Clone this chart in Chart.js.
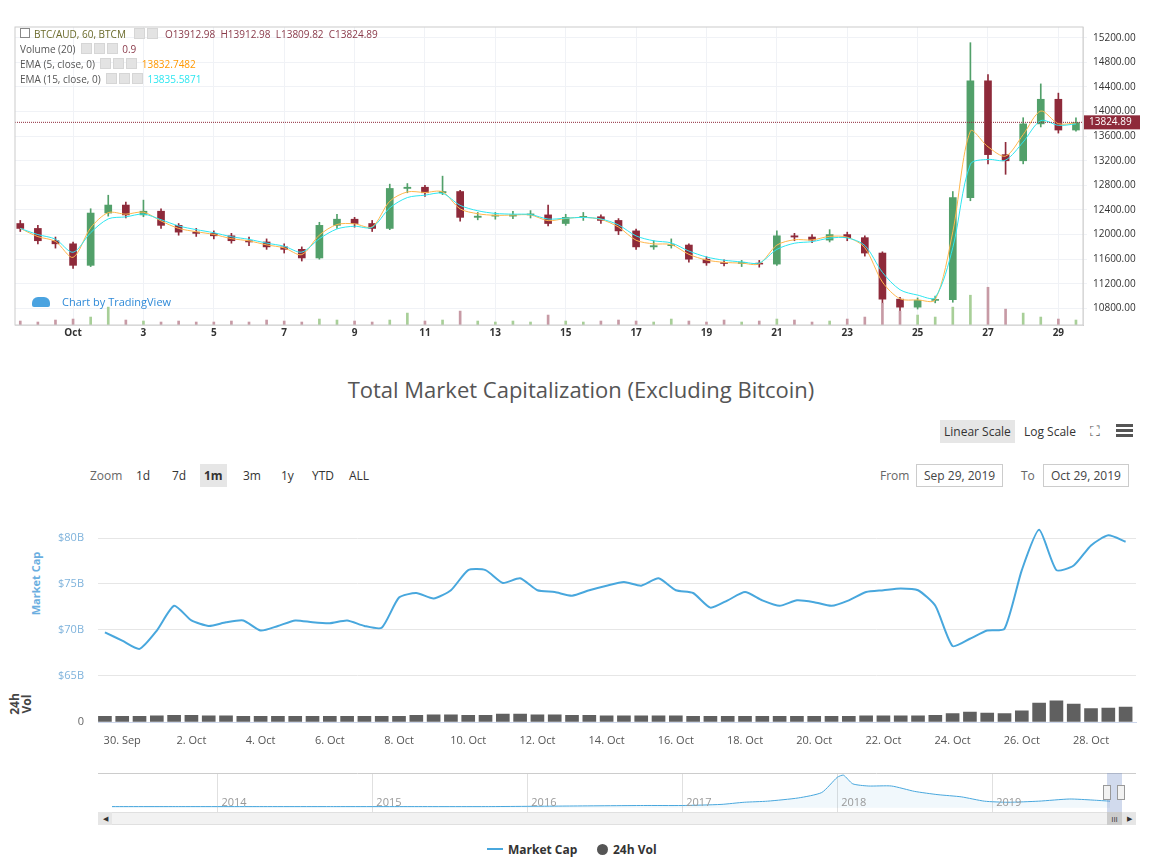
<!DOCTYPE html>
<html>
<head>
<meta charset="utf-8">
<script src="https://cdn.jsdelivr.net/npm/chart.js@4"></script>
<style>
  body { margin: 0; width: 1162px; height: 864px; background: #fff; font-family: "Open Sans", sans-serif; position: relative; overflow: hidden; }
  canvas { position: absolute; }
  .abs { position: absolute; white-space: nowrap; }
  .tv { font-size: 10px; color: #555; }
  .ico { display: inline-block; width: 9px; height: 9px; background: #e3e3e3; border: 1px solid #d6d6d6; margin-right: 2px; vertical-align: -1px; }
  .btn { font-size: 12px; color: #333; padding: 3px 4px; }
  .inp { border: 1px solid #ccc; font-size: 12px; color: #444; padding: 2px 7px; }
</style>
</head>
<body>
<canvas id="top" width="1162" height="335" style="left:0;top:15px"></canvas>
<div class="abs tv" style="left:20px;top:27px"><span style="border:1px solid #888;display:inline-block;width:8px;height:8px;margin-right:4px"></span><span style="color:#6a6a2a">BTC/AUD, 60, BTCM</span> &nbsp;&nbsp;<span class="ico"></span><span class="ico"></span>&nbsp; <span style="color:#8a3a4a">O13912.98 &nbsp;H13912.98 &nbsp;L13809.82 &nbsp;C13824.89</span></div>
<div class="abs tv" style="left:20px;top:42px">Volume (20) &nbsp;<span class="ico"></span><span class="ico"></span><span class="ico"></span>&nbsp;<span style="color:#8a3a4a">0.9</span></div>
<div class="abs tv" style="left:20px;top:57px">EMA (5, close, 0) &nbsp;<span class="ico"></span><span class="ico"></span><span class="ico"></span>&nbsp;<span style="color:#ff9800">13832.7482</span></div>
<div class="abs tv" style="left:20px;top:72px">EMA (15, close, 0) &nbsp;<span class="ico"></span><span class="ico"></span><span class="ico"></span>&nbsp;<span style="color:#2ee6f0">13835.5871</span></div>
<div class="abs" style="left:32px;top:294px;font-size:11px;color:#2f8ad8"><span style="display:inline-block;width:18px;height:10px;background:#4aa3e0;border-radius:6px 6px 2px 2px;vertical-align:-1px;margin-right:12px"></span>Chart by TradingView</div>

<div class="abs" style="left:0;width:1162px;top:374px;text-align:center;font-size:22px;color:#555">Total Market Capitalization (Excluding Bitcoin)</div>
<div class="abs btn" style="left:940px;top:420px;background:#e6e6e6">Linear Scale</div>
<div class="abs btn" style="left:1020px;top:420px">Log Scale</div>
<div class="abs" style="left:1090px;top:421px;font-size:14px;color:#555">⛶</div>
<div class="abs" style="left:1116px;top:424px;width:17px;height:3px;background:#555;box-shadow:0 5px 0 #555,0 10px 0 #555"></div>
<div class="abs" style="left:90px;top:467px;font-size:12px;color:#666">Zoom</div>
<div class="abs btn" style="left:132px;top:464px">1d</div>
<div class="abs btn" style="left:168px;top:464px">7d</div>
<div class="abs btn" style="left:200px;top:464px;background:#e6e6e6;font-weight:bold">1m</div>
<div class="abs btn" style="left:239px;top:464px">3m</div>
<div class="abs btn" style="left:277px;top:464px">1y</div>
<div class="abs btn" style="left:308px;top:464px">YTD</div>
<div class="abs btn" style="left:345px;top:464px">ALL</div>
<div class="abs" style="left:880px;top:467px;font-size:12px;color:#666">From</div>
<div class="abs inp" style="left:916px;top:464px">Sep 29, 2019</div>
<div class="abs" style="left:1021px;top:467px;font-size:12px;color:#666">To</div>
<div class="abs inp" style="left:1043px;top:464px">Oct 29, 2019</div>
<div class="abs" style="left:4px;top:576px;transform:rotate(-90deg);font-size:11px;font-weight:bold;color:#6aaee0">Market Cap</div>
<div class="abs" style="left:10px;top:692px;transform:rotate(-90deg);font-size:12px;font-weight:bold;color:#444;line-height:12px;text-align:center">24h<br>Vol</div>

<canvas id="mcap" width="1162" height="217" style="left:0;top:479px"></canvas>
<canvas id="vol" width="1162" height="82" style="left:0;top:678px"></canvas>
<canvas id="nav" width="1162" height="60" style="left:0;top:770px"></canvas>
<div class="abs" style="left:98px;top:812px;width:1038px;height:13px;background:#f2f2f2;border:1px solid #e0e0e0;box-sizing:border-box"></div>
<div class="abs" style="left:98px;top:812px;width:14px;height:13px;background:#e6e6e6;font-size:7px;text-align:center;line-height:13px;color:#333">◀</div>
<div class="abs" style="left:1122px;top:812px;width:14px;height:13px;background:#e6e6e6;font-size:7px;text-align:center;line-height:13px;color:#333">▶</div>
<div class="abs" style="left:1107px;top:812px;width:15px;height:13px;background:#ccc;font-size:8px;text-align:center;line-height:13px;color:#333">III</div>
<div class="abs" style="left:1107px;top:773px;width:15px;height:39px;background:rgba(102,133,194,0.3)"></div>
<div class="abs" style="left:1103px;top:785px;width:6px;height:13px;background:#f2f2f2;border:1px solid #999"></div>
<div class="abs" style="left:1117px;top:785px;width:6px;height:13px;background:#f2f2f2;border:1px solid #999"></div>
<div class="abs" style="left:487px;top:841px;font-size:12px;font-weight:bold;color:#333"><span style="display:inline-block;width:16px;height:2px;background:#48a7dd;vertical-align:4px;margin-right:5px"></span>Market Cap</div>
<div class="abs" style="left:597px;top:841px;font-size:12px;font-weight:bold;color:#333"><span style="display:inline-block;width:11px;height:11px;border-radius:6px;background:#555;vertical-align:-1px;margin-right:5px"></span>24h Vol</div>

<script>
// ---- BTC/AUD 12h candles (t = days after Oct 1) ----
const candleT = [-1.5,-1,-0.5,0,0.5,1,1.5,2,2.5,3,3.5,4,4.5,5,5.5,6,6.5,7,7.5,8,8.5,9,9.5,10,10.5,11,11.5,12,12.5,13,13.5,14,14.5,15,15.5,16,16.5,17,17.5,18,18.5,19,19.5,20,20.5,21,21.5,22,22.5,23,23.5,24,24.5,25,25.5,26,26.5,27,27.5,28,28.5];
const opens  = [12180,12100,11900,11850,11500,12350,12480,12320,12380,12150,12040,12020,11980,11900,11880,11800,11760,11620,12150,12250,12180,12100,12750,12770,12680,12700,12280,12300,12300,12320,12320,12180,12280,12290,12230,12060,11800,11820,11830,11600,11540,11530,11530,11520,11980,11960,11910,12000,11950,11700,10950,10820,10930,10940,12600,14500,13300,13200,13800,14200,13700];
const closes = [12100,11900,11850,11500,12350,12480,12320,12380,12150,12040,12020,11980,11900,11880,11800,11760,11620,12150,12250,12180,12100,12750,12770,12680,12700,12280,12300,12300,12320,12320,12180,12280,12290,12230,12060,11800,11820,11830,11600,11540,11530,11530,11520,11980,11960,11910,12000,11950,11700,10950,10820,10930,10940,12600,14500,13300,13200,13800,14200,13700,13820];
const highs  = [12230,12150,11960,11880,12420,12640,12530,12560,12420,12180,12100,12060,12020,11960,11930,11850,11800,12200,12330,12280,12230,12820,12830,12800,12950,12720,12360,12360,12380,12390,12480,12330,12360,12320,12260,12090,11900,11930,11850,11640,11590,11580,11580,12060,12020,12000,12080,12040,11980,11720,10980,10970,11000,12700,15120,14600,13500,13900,14450,14300,13900];
const lows   = [12050,11850,11780,11450,11480,12300,12270,12290,12100,11990,11970,11930,11860,11820,11760,11700,11570,11600,12100,12120,12050,12080,12680,12620,12650,12220,12240,12250,12260,12270,12140,12150,12230,12180,12000,11760,11760,11780,11550,11500,11490,11480,11470,11500,11900,11870,11880,11900,11650,10880,10760,10790,10890,10900,12550,13150,12980,13150,13750,13650,13680];
const volumes = [4,3,5,6,8,18,5,4,3,4,3,3,4,3,5,4,3,6,5,4,3,5,12,4,5,14,4,3,4,3,10,4,3,4,5,4,3,6,4,3,5,3,4,6,5,3,4,6,8,22,14,10,8,18,30,38,16,12,8,6,5];
const priceTicks = [10800,11200,11600,12000,12400,12800,13200,13600,14000,14400,14800,15200];
const lastPrice = 13824.89;

// ---- Market cap excl. BTC, 12h steps (d = days after Sep 30), $B ----
const capDays = [-0.5,0,0.5,1,1.5,2,2.5,3,3.5,4,4.5,5,5.5,6,6.5,7,7.5,8,8.5,9,9.5,10,10.5,11,11.5,12,12.5,13,13.5,14,14.5,15,15.5,16,16.5,17,17.5,18,18.5,19,19.5,20,20.5,21,21.5,22,22.5,23,23.5,24,24.5,25,25.5,26,26.5,27,27.5,28,28.5,29];
const marketCap = [69.7,68.8,67.9,69.9,72.6,71.0,70.4,70.8,71.0,69.9,70.4,71.0,70.8,70.7,71.0,70.4,70.2,73.5,74.0,73.4,74.3,76.5,76.5,75.1,75.6,74.3,74.1,73.7,74.3,74.8,75.2,74.8,75.6,74.3,74.0,72.4,73.2,74.1,73.2,72.6,73.2,73.0,72.6,73.2,74.1,74.3,74.5,74.3,72.6,68.2,69.0,69.9,70.1,76.5,80.9,76.5,77.0,79.2,80.3,79.6];
const vol24h = [10,10,10,11,12,12,11,11,10,10,10,10,10,10,10,10,10,10,12,13,13,12,12,14,14,13,13,12,12,11,11,11,11,11,10,10,10,10,10,10,10,10,10,10,11,11,11,11,12,15,18,16,15,20,34,38,32,24,25,27];
const dateLabels = ['30. Sep','2. Oct','4. Oct','6. Oct','8. Oct','10. Oct','12. Oct','14. Oct','16. Oct','18. Oct','20. Oct','22. Oct','24. Oct','26. Oct','28. Oct'];

// ---- Navigator: all-time, by year ----
const navYears = [2013.3,2013.75,2014.25,2014.75,2015.25,2015.75,2016.25,2016.75,2017.0,2017.25,2017.4,2017.55,2017.75,2017.9,2018.0,2018.04,2018.1,2018.2,2018.35,2018.5,2018.65,2018.8,2018.95,2019.1,2019.3,2019.5,2019.65,2019.76];
const navValues = [1,1,1,1,1,1,1.5,2,2,3,5,6,9,14,28,30,22,20,20,15,12,10,6,5,6,8,7,6];
const yearTicks = [2014,2015,2016,2017,2018,2019];

function ema(vals, n) {
  const k = 2 / (n + 1); let e = vals[0];
  return vals.map(v => (e = v * k + e * (1 - k)));
}
const fixW = w => (s => { s.width = w; });
const fixH = h => (s => { s.height = h; });
const UP = '#52a06a', DN = '#8e2a3a';

const priceLine = {
  id: 'priceLine',
  afterDatasetsDraw(c) {
    const { ctx, chartArea: a, scales: { y } } = c;
    const py = y.getPixelForValue(lastPrice);
    ctx.save();
    ctx.strokeStyle = '#8e2a3a'; ctx.setLineDash([1, 1]); ctx.lineWidth = 1;
    ctx.beginPath(); ctx.moveTo(a.left, py); ctx.lineTo(a.right, py); ctx.stroke();
    ctx.setLineDash([]);
    ctx.fillStyle = '#8e2a3a'; ctx.fillRect(a.right + 1, py - 7, 56, 14);
    ctx.fillStyle = '#fff'; ctx.font = '10px "Open Sans"'; ctx.textBaseline = 'middle';
    ctx.fillText(lastPrice.toFixed(2), a.right + 6, py);
    ctx.strokeStyle = '#ccc'; ctx.strokeRect(a.left, a.top, a.right - a.left, a.bottom - a.top);
    ctx.restore();
  }
};

new Chart(document.getElementById('top'), {
  data: {
    datasets: [
      { type: 'bar', yAxisID: 'yv', data: candleT.map((t, i) => ({ x: t, y: volumes[i] })),
        backgroundColor: candleT.map((t, i) => closes[i] >= opens[i] ? '#a8cf98' : '#c79aa5'), barThickness: 2, grouped: false },
      { type: 'line', data: candleT.map((t, i) => ({ x: t, y: ema(closes, 3)[i] })), borderColor: '#2ee6f0', borderWidth: 1, pointRadius: 0, tension: 0.3 },
      { type: 'line', data: candleT.map((t, i) => ({ x: t, y: ema(closes, 2)[i] })), borderColor: '#ffb74d', borderWidth: 1, pointRadius: 0, tension: 0.3 },
      { type: 'bar', data: candleT.map((t, i) => ({ x: t, y: [lows[i], highs[i]] })),
        backgroundColor: candleT.map((t, i) => closes[i] >= opens[i] ? UP : DN), barThickness: 1, grouped: false },
      { type: 'bar', data: candleT.map((t, i) => ({ x: t, y: [opens[i], closes[i]] })),
        backgroundColor: candleT.map((t, i) => closes[i] >= opens[i] ? UP : DN), barThickness: 7, grouped: false, minBarLength: 1 }
    ]
  },
  options: {
    responsive: false, animation: false, events: [],
    layout: { padding: { left: 15, top: 5 } },
    plugins: { legend: { display: false }, tooltip: { enabled: false } },
    scales: {
      x: { type: 'linear', offset: false, min: -1.65, max: 28.7, afterFit: fixH(25),
        afterBuildTicks: s => { s.ticks = [0,2,4,6,8,10,12,14,16,18,20,22,24,26,28].map(v => ({ value: v })); },
        ticks: { callback: v => v === 0 ? 'Oct' : String(v + 1), color: '#333', font: { size: 10, weight: 'bold', family: 'Open Sans' }, maxRotation: 0, padding: 2 },
        grid: { color: '#f0f2f6', drawTicks: false, offset: false } },
      y: { position: 'right', min: 10530, max: 15375, afterFit: fixW(79),
        afterBuildTicks: s => { s.ticks = priceTicks.map(v => ({ value: v })); },
        ticks: { callback: v => v.toFixed(2), color: '#333', font: { size: 10, family: 'Open Sans' }, padding: 6 },
        grid: { color: '#f0f2f6', drawTicks: true, tickLength: 4 } },
      yv: { display: false, min: 0, max: 300 }
    }
  },
  plugins: [priceLine]
});

new Chart(document.getElementById('mcap'), {
  type: 'line',
  data: { datasets: [{ data: capDays.map((d, i) => ({ x: d, y: marketCap[i] })), borderColor: '#48a7dd', borderWidth: 2, pointRadius: 0, tension: 0.2 }] },
  options: {
    responsive: false, animation: false, events: [],
    layout: { padding: { top: 5, bottom: 5, right: 26 } },
    plugins: { legend: { display: false }, tooltip: { enabled: false } },
    scales: {
      x: { type: 'linear', min: -0.7, max: 29.3, display: false },
      y: { min: 65, max: 84.2, afterFit: fixW(98),
        afterBuildTicks: s => { s.ticks = [65,70,75,80].map(v => ({ value: v })); },
        ticks: { callback: v => '$' + v + 'B', color: '#7fb3dc', font: { size: 11, family: 'Open Sans' }, padding: 14 },
        grid: { color: '#e6e6e6', drawTicks: false }, border: { display: false } }
    }
  }
});

new Chart(document.getElementById('vol'), {
  type: 'bar',
  data: { datasets: [{ data: capDays.map((d, i) => ({ x: d, y: vol24h[i] })), backgroundColor: '#606060', barThickness: 13 }] },
  options: {
    responsive: false, animation: false, events: [],
    layout: { padding: { top: 5, right: 26 } },
    plugins: { legend: { display: false }, tooltip: { enabled: false } },
    scales: {
      x: { type: 'linear', offset: false, min: -0.7, max: 29.3, afterFit: fixH(38),
        afterBuildTicks: s => { s.ticks = dateLabels.map((l, i) => ({ value: i * 2 })); },
        ticks: { callback: (v, i) => dateLabels[i], color: '#555', font: { size: 11, family: 'Open Sans' }, maxRotation: 0, padding: 4 },
        grid: { display: false, drawTicks: true, offset: false }, border: { color: '#ccd6eb' } },
      y: { min: 0, max: 42, afterFit: fixW(98),
        afterBuildTicks: s => { s.ticks = [{ value: 0 }]; },
        ticks: { color: '#666', font: { size: 11, family: 'Open Sans' }, padding: 14 },
        grid: { color: '#e6e6e6', drawTicks: false }, border: { display: false } }
    }
  }
});

const yearLabels = {
  id: 'yearLabels',
  afterDraw(c) {
    const { ctx, chartArea: a, scales: { x } } = c;
    ctx.save(); ctx.fillStyle = '#999'; ctx.font = '11px "Open Sans"';
    yearTicks.forEach(y => ctx.fillText(String(y), x.getPixelForValue(y) + 4, a.bottom - 6));
    ctx.strokeStyle = '#ccc'; ctx.beginPath(); ctx.moveTo(a.left - 14, a.top + 0.5); ctx.lineTo(a.right + 26, a.top + 0.5); ctx.stroke();
    ctx.restore();
  }
};
new Chart(document.getElementById('nav'), {
  type: 'line',
  data: { datasets: [{ data: navYears.map((y, i) => ({ x: y, y: navValues[i] })), borderColor: '#48a7dd', borderWidth: 1, pointRadius: 0, fill: 'origin', backgroundColor: 'rgba(72,167,221,0.08)', tension: 0.2 }] },
  options: {
    responsive: false, animation: false, events: [],
    layout: { padding: { left: 112, right: 52, top: 3, bottom: 18 } },
    plugins: { legend: { display: false }, tooltip: { enabled: false } },
    scales: {
      x: { type: 'linear', min: 2013.32, max: 2019.76, display: true,
        afterBuildTicks: s => { s.ticks = yearTicks.map(v => ({ value: v })); },
        ticks: { display: false }, grid: { color: '#e0e0e0', drawTicks: false }, border: { display: false }, afterFit: fixH(0) },
      y: { display: false, min: -4, max: 32 }
    }
  },
  plugins: [yearLabels]
});
</script>
</body>
</html>
